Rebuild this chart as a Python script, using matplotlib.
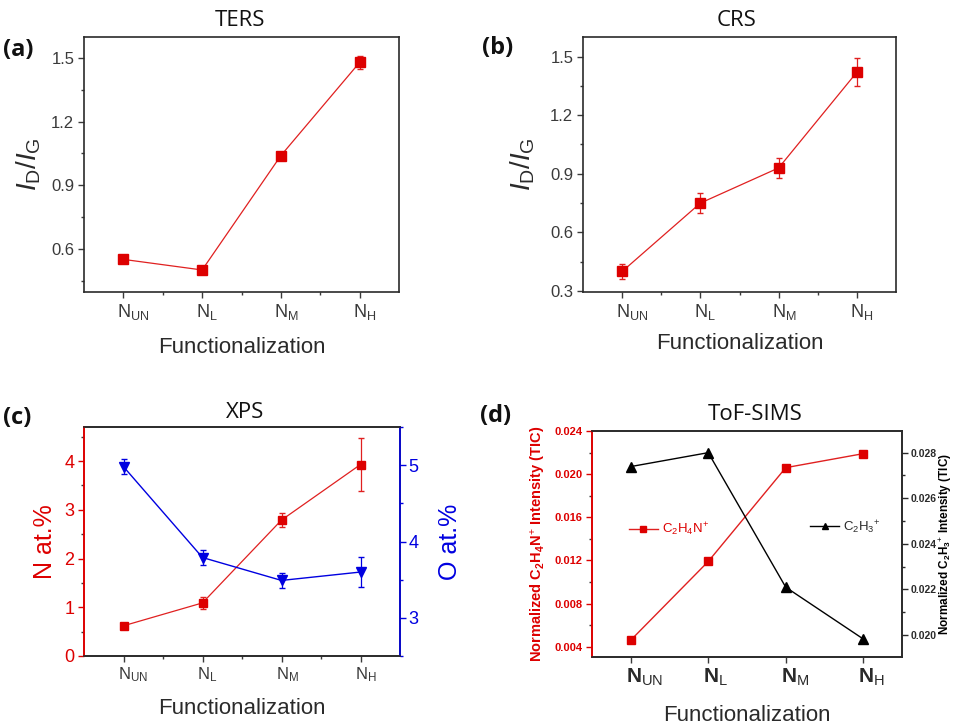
import matplotlib
matplotlib.use("Agg")
import matplotlib.pyplot as plt
from matplotlib.ticker import MultipleLocator, FixedLocator
from matplotlib.transforms import ScaledTranslation

plt.rcParams['font.family'] = ['Liberation Sans', 'DejaVu Sans']
plt.rcParams['mathtext.fontset'] = 'custom'
plt.rcParams['mathtext.rm'] = 'Liberation Sans'
plt.rcParams['mathtext.it'] = 'Liberation Sans:italic'
plt.rcParams['mathtext.bf'] = 'Liberation Sans:bold'

# ---------------- data ----------------
categories = ['NUN', 'NL', 'NM', 'NH']
tick_labels = [r'N$_{\mathregular{UN}}$', r'N$_{\mathregular{L}}$', r'N$_{\mathregular{M}}$', r'N$_{\mathregular{H}}$']
tick_labels_bold = [r'$\mathbf{N}_{\mathregular{UN}}$', r'$\mathbf{N}_{\mathregular{L}}$',
                    r'$\mathbf{N}_{\mathregular{M}}$', r'$\mathbf{N}_{\mathregular{H}}$']

ters_idig = [0.55, 0.50, 1.04, 1.48]
ters_err = [0.01, 0.01, 0.015, 0.03]

crs_idig = [0.40, 0.75, 0.93, 1.42]
crs_err = [0.04, 0.05, 0.05, 0.07]

xps_n = [0.62, 1.09, 2.79, 3.93]
xps_n_err = [0.05, 0.12, 0.14, 0.55]
xps_o = [4.98, 3.79, 3.49, 3.60]
xps_o_err = [0.10, 0.10, 0.10, 0.20]

sims_c2h4n = [0.0046, 0.0119, 0.0206, 0.0219]
sims_c2h3 = [0.02739, 0.0280, 0.0221, 0.01983]

W, H = 957, 725
fig = plt.figure(figsize=(W / 100, H / 100), dpi=100)

def rect(l, r, t, b):
    return [l / W, (H - b) / H, (r - l) / W, (b - t) / H]

RED = '#dd0000'
LRED = '#e02020'
BLUE = '#0000e0'
DARK = '#2a2a2a'
GRAY = '#3a3a3a'
x = list(range(1, len(categories) + 1))

def style(ax, color=GRAY):
    ax.set_xlim(0.5, 4.5)
    ax.xaxis.set_major_locator(FixedLocator(x))
    ax.xaxis.set_minor_locator(FixedLocator([1.5, 2.5, 3.5]))
    ax.tick_params(which='major', direction='out', length=4, width=1, colors=color, pad=3)
    ax.tick_params(which='minor', direction='out', length=2.5, width=1, colors=color)
    ax.tick_params(top=False, right=False, which='both')
    for s in ax.spines.values():
        s.set_color(DARK)
        s.set_linewidth(1.2)

def set_xlabels(ax, labels, size, shift_px, color=GRAY):
    ax.set_xticks(x)
    ax.set_xticklabels(labels, fontsize=size, color=color, ha='left')
    off = ScaledTranslation(-shift_px / 100, 0, fig.dpi_scale_trans)
    for t in ax.get_xticklabels():
        t.set_transform(t.get_transform() + off)

# ---------------- (a) TERS ----------------
axa = fig.add_axes(rect(84, 399, 37, 292))
axa.errorbar(x, ters_idig, yerr=ters_err, color=LRED, lw=0.9, marker='s', ms=6.5,
             mfc=RED, mec=RED, capsize=2.5, elinewidth=0.9, ecolor=LRED)
axa.set_ylim(0.396, 1.6)
axa.yaxis.set_major_locator(MultipleLocator(0.3))
axa.yaxis.set_minor_locator(MultipleLocator(0.15))
style(axa)
set_xlabels(axa, tick_labels, 13, 6.5)
axa.tick_params(axis='y', labelsize=12, labelcolor=GRAY)
axa.set_ylabel(r'$\mathit{I}_{\mathregular{D}}/\mathit{I}_{\mathregular{G}}$', fontsize=20, color=DARK)
axa.yaxis.set_label_coords(-0.13, 0.5)
axa.set_xlabel('Functionalization', fontsize=16, color=DARK)
axa.xaxis.set_label_coords(0.5, -0.176)

# ---------------- (b) CRS ----------------
axb = fig.add_axes(rect(583, 896, 37, 292))
axb.errorbar(x, crs_idig, yerr=crs_err, color=LRED, lw=0.9, marker='s', ms=6.5,
             mfc=RED, mec=RED, capsize=2.5, elinewidth=0.9, ecolor=LRED)
axb.set_ylim(0.295, 1.6)
axb.yaxis.set_major_locator(MultipleLocator(0.3))
axb.yaxis.set_minor_locator(MultipleLocator(0.15))
style(axb)
set_xlabels(axb, tick_labels, 13, 6.5)
axb.tick_params(axis='y', labelsize=12, labelcolor=GRAY)
axb.set_yticks([0.3, 0.6, 0.9, 1.2, 1.5])
axb.set_yticklabels(['0.3', '0.6', '0.9', '1.2', '1.5'])
axb.set_ylabel(r'$\mathit{I}_{\mathregular{D}}/\mathit{I}_{\mathregular{G}}$', fontsize=20, color=DARK)
axb.yaxis.set_label_coords(-0.147, 0.5)
axb.set_xlabel('Functionalization', fontsize=16, color=DARK)
axb.xaxis.set_label_coords(0.5, -0.161)

# ---------------- (c) XPS ----------------
axc = fig.add_axes(rect(84, 400, 427, 656))
axc.errorbar(x, xps_n, yerr=xps_n_err, color=LRED, lw=0.9, marker='s', ms=6,
             mfc=RED, mec=RED, capsize=2.5, elinewidth=0.9, ecolor=LRED)
axc.set_ylim(0, 4.7)
axc.yaxis.set_major_locator(MultipleLocator(1))
axc.yaxis.set_minor_locator(MultipleLocator(0.5))
style(axc)
set_xlabels(axc, tick_labels, 12, 6)
axc.tick_params(axis='y', labelsize=13, colors=RED)
axc.spines['left'].set_color(RED)
axc.set_ylabel('N at.%', fontsize=18, color=RED)
axc.yaxis.set_label_coords(-0.085, 0.5)
axc.set_xlabel('Functionalization', fontsize=16, color=DARK)
axc.xaxis.set_label_coords(0.5, -0.183)

axc2 = axc.twinx()
axc2.errorbar(x, xps_o, yerr=xps_o_err, color=BLUE, lw=1.0, marker='v', ms=7,
              mfc=BLUE, mec=BLUE, capsize=2.5, elinewidth=0.9, ecolor=BLUE)
axc2.set_ylim(2.5, 5.5)
axc2.yaxis.set_major_locator(MultipleLocator(1))
axc2.yaxis.set_minor_locator(MultipleLocator(0.5))
axc2.tick_params(which='major', direction='out', length=4, width=1, colors=BLUE, labelsize=13, pad=2)
axc2.tick_params(which='minor', direction='out', length=2.5, width=1, colors=BLUE)
axc2.spines['right'].set_color(BLUE)
axc2.spines['left'].set_color(RED)
axc2.spines['top'].set_color(DARK)
axc2.spines['bottom'].set_color(DARK)
for s in axc2.spines.values():
    s.set_linewidth(1.2)
axc2.set_ylabel('O at.%', fontsize=18, color=BLUE)
axc2.yaxis.set_label_coords(1.12, 0.5)

# ---------------- (d) ToF-SIMS ----------------
axd = fig.add_axes(rect(592, 902, 431, 657))
l1, = axd.plot(x, sims_c2h4n, color=LRED, lw=1.0, marker='s', ms=6, mfc=RED, mec=RED)
axd.set_ylim(0.00304, 0.024)
axd.yaxis.set_minor_locator(MultipleLocator(0.002))
style(axd)
axd.set_yticks([0.004, 0.008, 0.012, 0.016, 0.020, 0.024])
axd.set_yticklabels(['0.004', '0.008', '0.012', '0.016', '0.020', '0.024'],
                    fontsize=8, fontweight='bold')
axd.tick_params(axis='y', colors=RED)
set_xlabels(axd, tick_labels_bold, 15, 5, color=DARK)
axd.tick_params(axis='x', which='minor', length=0)
axd.spines['left'].set_color(RED)
axd.set_ylabel(r'Normalized C$_{\mathregular{2}}$H$_{\mathregular{4}}$N$^{+}$ Intensity (TIC)',
               fontsize=10.5, fontweight='bold', color=RED)
axd.yaxis.set_label_coords(-0.142, 0.5)
axd.set_xlabel('Functionalization', fontsize=16, color=DARK)
axd.xaxis.set_label_coords(0.5, -0.212)

axd2 = axd.twinx()
l2, = axd2.plot(x, sims_c2h3, color='black', lw=1.0, marker='^', ms=6.5, mfc='black', mec='black')
axd2.set_ylim(0.01904, 0.02895)
axd2.set_yticks([0.020, 0.022, 0.024, 0.026, 0.028])
axd2.set_yticklabels(['0.020', '0.022', '0.024', '0.026', '0.028'], fontsize=7.5, fontweight='bold')
axd2.yaxis.set_minor_locator(MultipleLocator(0.001))
axd2.tick_params(which='major', direction='out', length=4, width=1, colors=DARK, pad=2)
axd2.tick_params(which='minor', direction='out', length=2.5, width=1, colors=DARK)
for s in axd2.spines.values():
    s.set_linewidth(1.2)
    s.set_color(DARK)
axd2.spines['left'].set_color(RED)
axd2.set_ylabel(r'Normalized C$_{\mathregular{2}}$H$_{\mathregular{3}}$$^{+}$ Intensity (TIC)',
                fontsize=8.5, fontweight='bold', color='black')
axd2.yaxis.set_label_coords(1.1125, 0.5)

leg1 = axd2.legend([l1], [r'C$_{\mathregular{2}}$H$_{\mathregular{4}}$N$^{+}$'], frameon=False,
                   loc='center left', bbox_to_anchor=(0.08, 0.565), fontsize=9.5,
                   handlelength=2.2, handletextpad=0.3, labelcolor=RED, markerscale=0.75)
axd2.add_artist(leg1)
leg2 = axd2.legend([l2], [r'C$_{\mathregular{2}}$H$_{\mathregular{3}}$$^{+}$'], frameon=False,
                   loc='center left', bbox_to_anchor=(0.665, 0.575), fontsize=9.5,
                   handlelength=2.2, handletextpad=0.3, labelcolor=DARK, markerscale=0.75)

# ---------------- titles and panel labels ----------------
def ftext(px, py, s, **kw):
    fig.text(px / W, 1 - py / H, s, **kw)

tkw = dict(ha='center', va='center', fontsize=16, family=['Open Sans', 'DejaVu Sans'], color='#111111')
ftext(240, 20, 'TERS', **tkw)
ftext(737, 20, 'CRS', **tkw)
ftext(245, 412, 'XPS', **tkw)
ftext(755, 415, 'ToF-SIMS', **tkw)

pkw = dict(ha='left', va='center', fontsize=17, fontweight='bold',
           family=['Open Sans', 'DejaVu Sans'], color='#111111')
ftext(3, 50, '(a)', **pkw)
ftext(482, 48, '(b)', **pkw)
ftext(3, 418, '(c)', **pkw)
ftext(480, 416, '(d)', **pkw)

fig.savefig('out.png', dpi=100)
